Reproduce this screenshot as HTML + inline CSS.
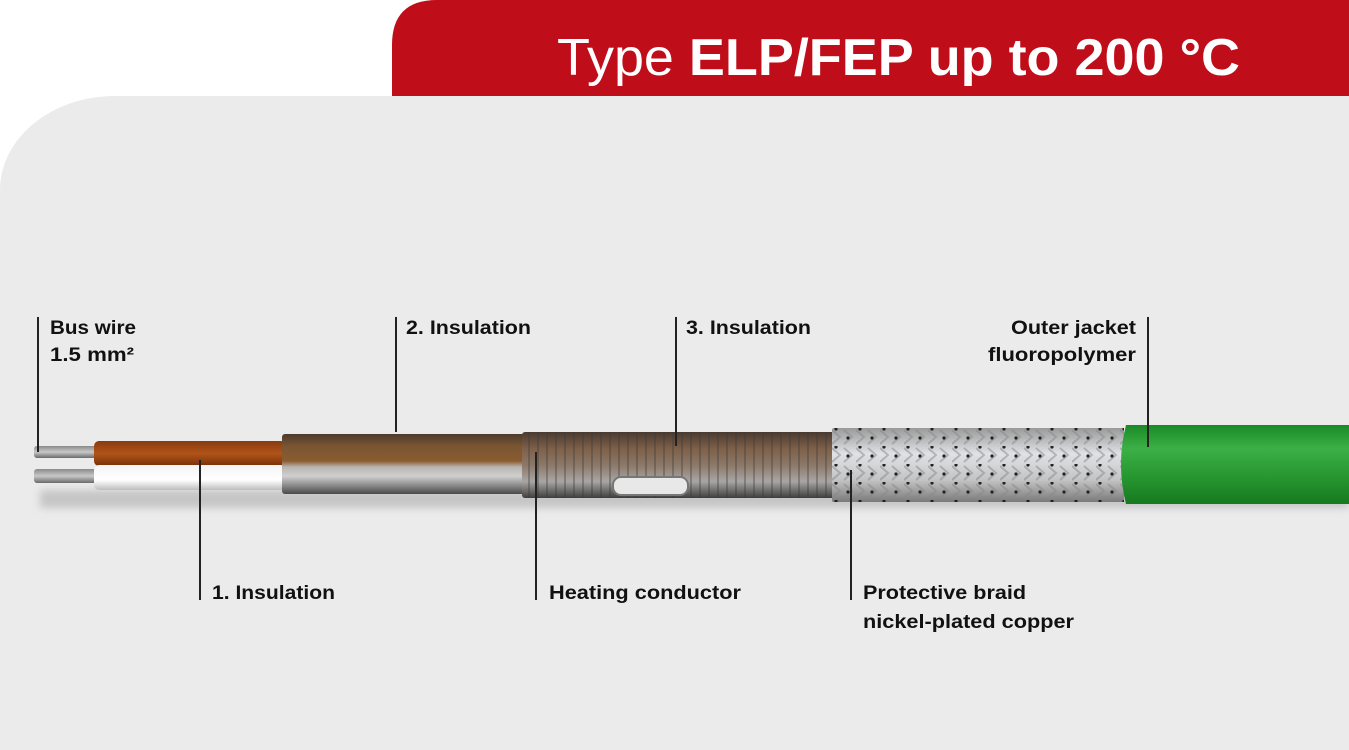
<!DOCTYPE html>
<html><head><meta charset="utf-8"><style>
html,body{margin:0;padding:0;background:#fff;}
svg{display:block;}
text{font-family:"Liberation Sans",sans-serif;}
</style></head><body>
<svg width="1349" height="750" viewBox="0 0 1349 750" xmlns="http://www.w3.org/2000/svg">
<defs>
<linearGradient id="wire" x1="0" y1="0" x2="0" y2="1"><stop offset="0" stop-color="#8a8a8a"/><stop offset=".5" stop-color="#c8c8c8"/><stop offset="1" stop-color="#6a6a6a"/></linearGradient>
<linearGradient id="brown" x1="0" y1="0" x2="0" y2="1"><stop offset="0" stop-color="#8a3a10"/><stop offset=".5" stop-color="#b05418"/><stop offset="1" stop-color="#7a3008"/></linearGradient>
<linearGradient id="white" x1="0" y1="0" x2="0" y2="1"><stop offset="0" stop-color="#f4f4f4"/><stop offset=".6" stop-color="#ffffff"/><stop offset="1" stop-color="#bdbdbd"/></linearGradient>
<linearGradient id="ins2" x1="0" y1="0" x2="0" y2="1"><stop offset="0" stop-color="#4c3a2c"/><stop offset=".2" stop-color="#7a5532"/><stop offset=".45" stop-color="#8a5c30"/><stop offset=".55" stop-color="#b8b4b0"/><stop offset=".7" stop-color="#d0d0d0"/><stop offset="1" stop-color="#4a4a4a"/></linearGradient>
<linearGradient id="coil" x1="0" y1="0" x2="0" y2="1"><stop offset="0" stop-color="#4a3a30"/><stop offset=".25" stop-color="#7e6048"/><stop offset=".5" stop-color="#8c7868"/><stop offset=".75" stop-color="#a8a6a4"/><stop offset="1" stop-color="#3e3e3e"/></linearGradient>
<pattern id="rib" x="522" y="0" width="9" height="10" patternUnits="userSpaceOnUse"><rect width="9" height="10" fill="none"/><rect x="6" width="2" height="10" fill="#3a3a3a" opacity=".35"/></pattern>
<linearGradient id="braid" x1="0" y1="0" x2="0" y2="1"><stop offset="0" stop-color="#9a9a9a"/><stop offset=".35" stop-color="#dfe2e6"/><stop offset=".7" stop-color="#c4c4c4"/><stop offset="1" stop-color="#7a7a7a"/></linearGradient>
<pattern id="weave" x="832" y="428" width="24" height="18" patternUnits="userSpaceOnUse">
<path d="M0 2 L8 9 L0 16 M12 2 L20 9 L12 16" stroke="#888" stroke-width="2" fill="none" opacity=".5"/>
<circle cx="4" cy="1" r="1.6" fill="#222"/><circle cx="16" cy="10" r="1.6" fill="#222"/></pattern>
<linearGradient id="green" x1="0" y1="0" x2="0" y2="1"><stop offset="0" stop-color="#1a8a26"/><stop offset=".3" stop-color="#3cb046"/><stop offset=".6" stop-color="#2a9a34"/><stop offset="1" stop-color="#167a1f"/></linearGradient>
<filter id="sh" x="-5%" y="-50%" width="110%" height="200%"><feGaussianBlur stdDeviation="4"/></filter>
</defs>
<rect width="1349" height="750" fill="#ffffff"/>
<path d="M392 96 L392 45 Q392 0 437 0 L1349 0 L1349 96 Z" fill="#c00d1a"/>
<path d="M0 190 A 115 94 0 0 1 115 96 L1349 96 L1349 750 L0 750 Z" fill="#ebebeb"/>
<text x="557" y="75" font-size="52" fill="#fff" textLength="683" lengthAdjust="spacingAndGlyphs"><tspan font-weight="300">Type </tspan><tspan font-weight="bold">ELP/FEP up to 200 °C</tspan></text>

<rect x="40" y="490" width="1309" height="18" fill="#999" opacity=".45" filter="url(#sh)"/>
<rect x="34" y="446" width="64" height="12" rx="3" fill="url(#wire)"/>
<rect x="34" y="469" width="64" height="14" rx="3" fill="url(#wire)"/>
<rect x="94" y="441" width="192" height="25" rx="5" fill="url(#brown)"/>
<rect x="94" y="465" width="192" height="25" rx="5" fill="url(#white)"/>
<rect x="282" y="434" width="244" height="60" rx="3" fill="url(#ins2)"/>
<rect x="522" y="432" width="314" height="66" rx="3" fill="url(#coil)"/>
<rect x="522" y="432" width="314" height="66" fill="url(#rib)"/>
<rect x="613" y="477" width="75" height="18" rx="8" fill="#e8e8e8" stroke="#777" stroke-width="2"/>
<rect x="832" y="428" width="292" height="74" rx="2" fill="url(#braid)"/>
<rect x="832" y="428" width="292" height="74" fill="url(#weave)"/>
<path d="M1126 425 L1349 425 L1349 504 L1126 504 Q1116 464 1126 425 Z" fill="url(#green)"/>

<g stroke="#222" stroke-width="2">
<line x1="38" y1="317" x2="38" y2="452"/>
<line x1="396" y1="317" x2="396" y2="432"/>
<line x1="676" y1="317" x2="676" y2="446"/>
<line x1="1148" y1="317" x2="1148" y2="447"/>
<line x1="200" y1="460" x2="200" y2="600"/>
<line x1="536" y1="452" x2="536" y2="600"/>
<line x1="851" y1="470" x2="851" y2="600"/>
</g>
<g font-size="19" font-weight="bold" fill="#111">
<text x="50" y="334" textLength="86" lengthAdjust="spacingAndGlyphs">Bus wire</text>
<text x="50" y="361" textLength="84" lengthAdjust="spacingAndGlyphs">1.5 mm²</text>
<text x="406" y="334" textLength="125" lengthAdjust="spacingAndGlyphs">2. Insulation</text>
<text x="686" y="334" textLength="125" lengthAdjust="spacingAndGlyphs">3. Insulation</text>
<text x="1136" y="334" text-anchor="end" textLength="125" lengthAdjust="spacingAndGlyphs">Outer jacket</text>
<text x="1136" y="361" text-anchor="end" textLength="148" lengthAdjust="spacingAndGlyphs">fluoropolymer</text>
<text x="212" y="599" textLength="123" lengthAdjust="spacingAndGlyphs">1. Insulation</text>
<text x="549" y="599" textLength="192" lengthAdjust="spacingAndGlyphs">Heating conductor</text>
<text x="863" y="599" textLength="163" lengthAdjust="spacingAndGlyphs">Protective braid</text>
<text x="863" y="628" textLength="211" lengthAdjust="spacingAndGlyphs">nickel-plated copper</text>
</g>
</svg>
</body></html>
